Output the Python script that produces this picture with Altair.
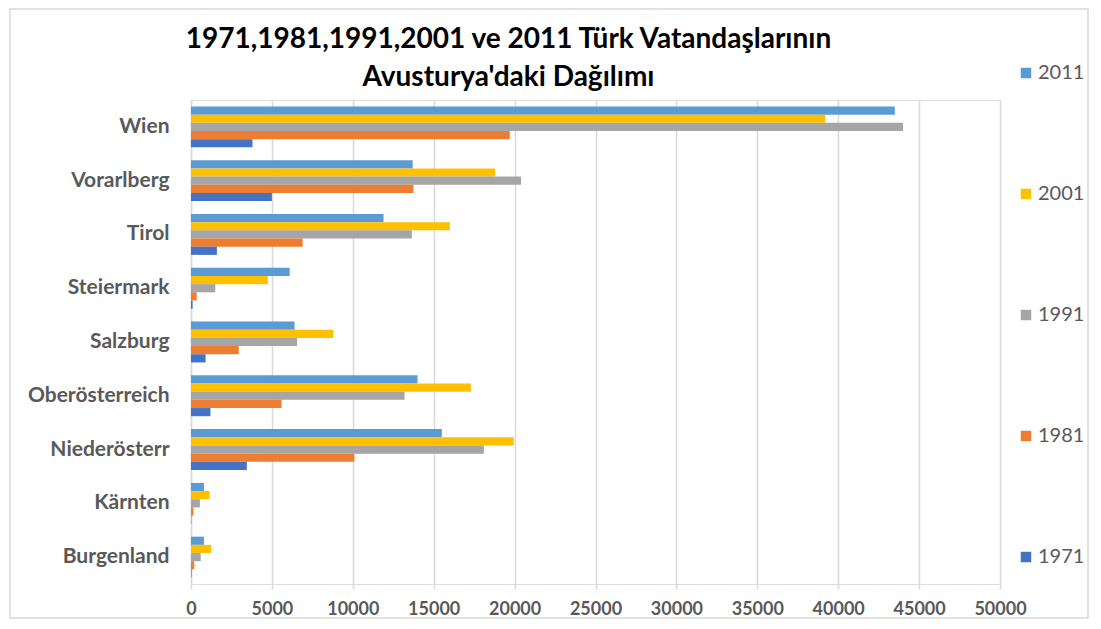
import altair as alt
import pandas as pd

regions = ["Wien", "Vorarlberg", "Tirol", "Steiermark", "Salzburg",
           "Oberösterreich", "Niederösterr", "Kärnten", "Burgenland"]
y2011 = [43500, 13700, 11900, 6100, 6400, 14000, 15500, 800, 800]
y2001 = [39200, 18800, 16000, 4750, 8800, 17300, 19950, 1150, 1250]
y1991 = [44000, 20400, 13650, 1500, 6550, 13200, 18100, 550, 600]
y1981 = [19700, 13750, 6900, 350, 2950, 5600, 10100, 150, 200]
y1971 = [3800, 5000, 1600, 100, 900, 1200, 3450, 20, 30]
years = ["2011", "2001", "1991", "1981", "1971"]
colors = ["#5B9BD5", "#FFC000", "#A5A5A5", "#ED7D31", "#4472C4"]

series = {"2011": y2011, "2001": y2001, "1991": y1991, "1981": y1981, "1971": y1971}
rows = []
for yr in years:
    for r, v in zip(regions, series[yr]):
        rows.append({"region": r, "year": yr, "value": v})
df = pd.DataFrame(rows)

FONT = "Lato"
GRAY = "#595959"

bars = alt.Chart(df).mark_bar(clip=False).encode(
    y=alt.Y("region:N", sort=regions, title=None,
            scale=alt.Scale(paddingInner=0.24, paddingOuter=0.12),
            axis=alt.Axis(labelFont=FONT, labelFontSize=21, labelFontWeight="bold",
                          labelColor=GRAY, ticks=False, domain=True,
                          domainColor="#D9D9D9", domainWidth=1.5, labelPadding=22)),
    yOffset=alt.YOffset("year:N", sort=years, scale=alt.Scale(paddingInner=0, paddingOuter=0)),
    x=alt.X("value:Q", title=None,
            scale=alt.Scale(domain=[0, 50000], nice=False),
            axis=alt.Axis(values=list(range(0, 50001, 5000)), format="d",
                          labelFont=FONT, labelFontSize=18, labelFontWeight="bold",
                          labelColor=GRAY, labelOverlap=False, labelFlush=False,
                          grid=True, gridColor="#D9D9D9", gridWidth=1.5,
                          domain=False, tickColor="#D9D9D9", tickWidth=1.5, tickSize=5,
                          labelPadding=11)),
    color=alt.Color("year:N", sort=years,
                    scale=alt.Scale(domain=years, range=colors),
                    legend=alt.Legend(title=None, orient="none", legendX=825, legendY=-37,
                                      symbolType="square", symbolSize=110,
                                      symbolStrokeWidth=0, labelFont=FONT,
                                      labelFontSize=20, labelColor=GRAY,
                                      rowPadding=101, labelOffset=2)),
)

border = alt.Chart(alt.Data(values=[{"a": 1}])).mark_rect(
    fill=None, stroke="#D9D9D9", strokeWidth=1.5, clip=False
).encode(x=alt.value(-181), x2=alt.value(897), y=alt.value(-91), y2=alt.value(518))

chart = alt.layer(border, bars).properties(
    width=809, height=484,
    autosize=alt.AutoSizeParams(type="none"),
    padding={"left": 183, "top": 92, "right": 93, "bottom": 37},
    title=alt.Title(["1971,1981,1991,2001 ve 2011 Türk Vatandaşlarının",
                     "Avusturya'daki Dağılımı"],
                    font=FONT, fontSize=28, fontWeight="bold", color="#000000",
                    anchor="middle", dx=-87, dy=94, offset=10, lineHeight=38),
).configure_view(stroke=None).configure(background="white")

chart.save("out.html", embed_options={"renderer": "svg", "actions": False})
